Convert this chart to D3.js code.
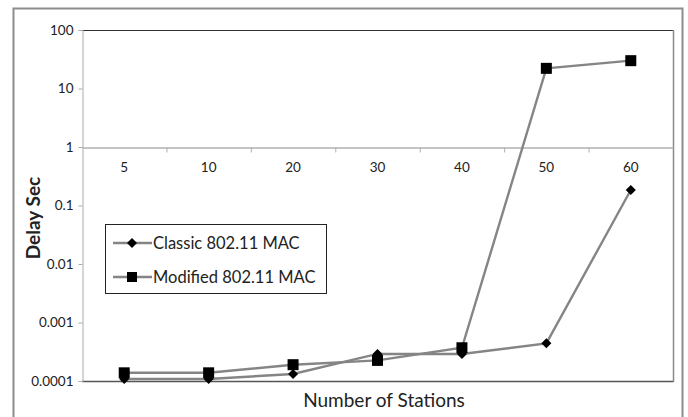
<!DOCTYPE html>
<html>
<head>
<meta charset="utf-8">
<script src="https://cdn.jsdelivr.net/npm/d3@7"></script>
<style>
  html, body { margin: 0; padding: 0; background: #fff; }
  svg { display: block; font-family: Lato, "Open Sans", sans-serif; }
</style>
</head>
<body>
<svg id="chart" width="688" height="417"></svg>
<script>
// Number of stations on the network
const stations = ["5", "10", "20", "30", "40", "50", "60"];
// Mean delay in seconds per station count
const classicDelay  = [0.000108, 0.000108, 0.000132, 0.00029, 0.00029, 0.00044, 0.184];
const modifiedDelay = [0.000138, 0.000138, 0.00019, 0.000225, 0.00037, 22.1, 29.9];
const seriesNames = ["Classic 802.11 MAC", "Modified 802.11 MAC"];
const yTicks = [0.0001, 0.001, 0.01, 0.1, 1, 10, 100];
const yTickLabels = ["0.0001", "0.001", "0.01", "0.1", "1", "10", "100"];

const svg = d3.select("#chart");
const plot = { left: 82, top: 30, right: 673, bottom: 381 };

const x = d3.scaleBand().domain(stations).range([plot.left, plot.right]);
const y = d3.scaleLog().domain([0.0001, 100]).range([plot.bottom, plot.top]);

// outer chart border
svg.append("rect")
  .attr("x", 13.5).attr("y", 8.5).attr("width", 669).attr("height", 420)
  .attr("fill", "none").attr("stroke", "#8c8c8c").attr("stroke-width", 2);

// plot area frame
svg.append("line").attr("x1", plot.left).attr("x2", plot.right)
  .attr("y1", plot.top + 0.5).attr("y2", plot.top + 0.5)
  .attr("stroke", "#333").attr("stroke-width", 1.2);
svg.append("line").attr("x1", plot.left).attr("x2", plot.right + 0.5)
  .attr("y1", plot.bottom + 0.5).attr("y2", plot.bottom + 0.5)
  .attr("stroke", "#555").attr("stroke-width", 1.5);
svg.append("line").attr("x1", plot.right + 0.5).attr("x2", plot.right + 0.5)
  .attr("y1", plot.top).attr("y2", plot.bottom + 1)
  .attr("stroke", "#8a8a8a").attr("stroke-width", 1.5);

// y axis (log)
const yAxis = d3.axisLeft(y).tickValues(yTicks)
  .tickFormat((d, i) => yTickLabels[i]).tickSize(4).tickPadding(5);
const yg = svg.append("g").attr("transform", `translate(${plot.left + 0.5},0)`).call(yAxis);
yg.select(".domain").attr("stroke", "#aaa");
yg.selectAll(".tick line").attr("stroke", "#aaa");
yg.selectAll(".tick text").attr("font-size", 13.5).attr("fill", "#222")
  .attr("font-family", "Lato, 'Open Sans', sans-serif");

// x axis crossing at y = 1
const xAxis = d3.axisBottom(x).tickSize(0).tickPadding(15);
const xg = svg.append("g").attr("transform", `translate(0,${Math.round(y(1)) + 0.5})`).call(xAxis);
xg.select(".domain").attr("stroke", "#b0b0b0").attr("stroke-width", 1.3);
xg.selectAll(".tick text").attr("font-size", 13.5).attr("fill", "#222")
  .attr("font-family", "Lato, 'Open Sans', sans-serif");
// category boundary tick marks
xg.selectAll("line.sep").data(stations.slice(1)).enter().append("line")
  .attr("class", "sep")
  .attr("x1", d => x(d) + 0.5).attr("x2", d => x(d) + 0.5)
  .attr("y1", 0).attr("y2", 5).attr("stroke", "#b0b0b0");

// series lines
const cx = d => x(d) + x.bandwidth() / 2;
const line = d3.line().x((d, i) => cx(stations[i])).y(d => y(d));
[classicDelay, modifiedDelay].forEach(vals => {
  svg.append("path").datum(vals).attr("d", line)
    .attr("fill", "none").attr("stroke", "#858585").attr("stroke-width", 2.4);
});

// markers
const diamond = d3.symbol().type(d3.symbolDiamond2).size(64);
svg.append("g").selectAll("path").data(classicDelay).enter().append("path")
  .attr("d", diamond)
  .attr("transform", (d, i) => `translate(${cx(stations[i])},${y(d)})`)
  .attr("fill", "#000");
svg.append("g").selectAll("rect").data(modifiedDelay).enter().append("rect")
  .attr("x", (d, i) => cx(stations[i]) - 5.5).attr("y", d => y(d) - 5.5)
  .attr("width", 11).attr("height", 11).attr("fill", "#000");

// legend
const lg = svg.append("g");
lg.append("rect").attr("x", 105.5).attr("y", 224.5).attr("width", 221).attr("height", 69)
  .attr("fill", "#fff").attr("stroke", "#222").attr("stroke-width", 1);
seriesNames.forEach((name, i) => {
  const ly = 243 + i * 34;
  lg.append("line").attr("x1", 113).attr("x2", 152).attr("y1", ly).attr("y2", ly)
    .attr("stroke", "#858585").attr("stroke-width", 2.4);
  if (i === 0) {
    lg.append("path").attr("d", diamond).attr("transform", `translate(132,${ly})`).attr("fill", "#000");
  } else {
    lg.append("rect").attr("x", 127).attr("y", ly - 5).attr("width", 10).attr("height", 10).attr("fill", "#000");
  }
  lg.append("text").attr("x", 153).attr("y", ly).attr("dy", "0.35em")
    .attr("font-size", 16.5).attr("fill", "#222").text(name);
});

// axis titles
svg.append("text").attr("x", 384).attr("y", 400).attr("dy", "0.35em")
  .attr("text-anchor", "middle").attr("font-size", 19).attr("fill", "#222")
  .text("Number of Stations");
svg.append("text").attr("transform", "translate(33,218) rotate(-90)")
  .attr("text-anchor", "middle").attr("dy", "0.35em")
  .attr("font-size", 19).attr("font-weight", "bold").attr("fill", "#222")
  .text("Delay Sec");
</script>
</body>
</html>
